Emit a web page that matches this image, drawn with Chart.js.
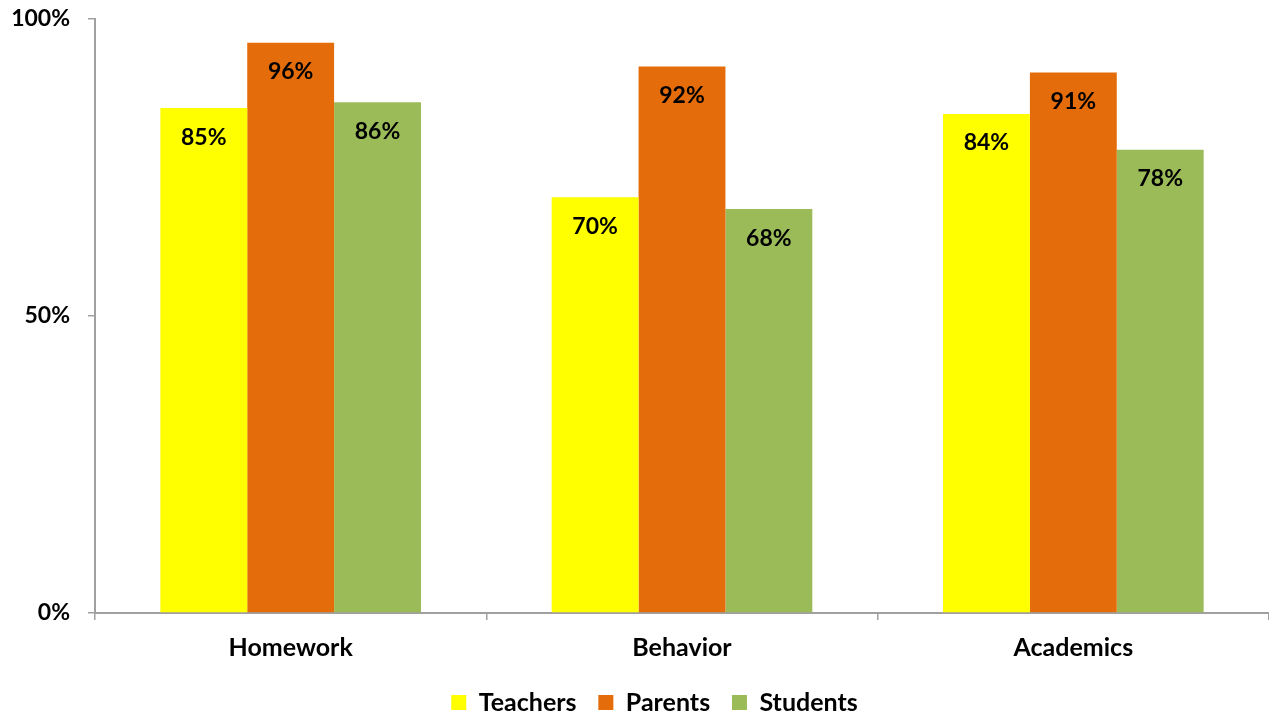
<!DOCTYPE html>
<html>
<head>
<meta charset="utf-8">
<script src="https://cdn.jsdelivr.net/npm/chart.js@4/dist/chart.umd.min.js"></script>
<style>
html,body{margin:0;padding:0;background:#fff;}
#wrap{width:1269px;height:715px;}
</style>
</head>
<body>
<div id="wrap"><canvas id="c" width="1269" height="715"></canvas></div>
<script>
const categories = ["Homework", "Behavior", "Academics"];
const teachers = [85, 70, 84];
const parents = [96, 92, 91];
const students = [86, 68, 78];
const yTicks = [0, 50, 100];

const FONT = "Lato, 'Open Sans', sans-serif";
const AXIS_X = 95;
const LEGEND_SHIFT = 40;

const labelPlugin = {
  id: 'barLabels',
  afterLayout(chart) {
    if (chart.legend) chart.legend.left += LEGEND_SHIFT;
  },
  afterDatasetsDraw(chart) {
    const ctx = chart.ctx;
    ctx.save();
    ctx.font = "bold 23px " + FONT;
    ctx.fillStyle = "#000";
    ctx.textAlign = "center";
    ctx.textBaseline = "middle";
    chart.data.datasets.forEach((ds, i) => {
      const meta = chart.getDatasetMeta(i);
      meta.data.forEach((el, j) => {
        ctx.fillText(ds.data[j] + "%", el.x, el.y + 29);
      });
    });
    ctx.restore();
  }
};

new Chart(document.getElementById('c'), {
  type: 'bar',
  data: {
    labels: categories,
    datasets: [
      { label: "Teachers", data: teachers, backgroundColor: "#FFFF00" },
      { label: "Parents", data: parents, backgroundColor: "#E46C0A" },
      { label: "Students", data: students, backgroundColor: "#9BBB59" }
    ]
  },
  options: {
    responsive: false,
    animation: false,
    layout: { padding: { top: 19, right: 0, left: 0, bottom: -10 } },
    datasets: { bar: { categoryPercentage: 0.666, barPercentage: 1.0 } },
    plugins: {
      legend: {
        position: 'bottom',
        labels: {
          font: { family: FONT, size: 25, weight: 'bold' },
          color: '#000',
          boxWidth: 15,
          boxHeight: 15,
          padding: 14,
          generateLabels(chart) {
            const items = Chart.defaults.plugins.legend.labels.generateLabels(chart);
            return items.map((it, i) => {
              if (i < items.length - 1) it.text = it.text + '\u2005\u200A';
              return it;
            });
          }
        }
      },
      tooltip: { enabled: false }
    },
    scales: {
      x: {
        grid: { drawOnChartArea: false, drawTicks: true, tickLength: 7, color: '#A0A0A0', lineWidth: 1.5 },
        border: { color: '#A0A0A0', width: 2 },
        ticks: { font: { family: FONT, size: 25, weight: 'bold' }, color: '#000', padding: 13 }
      },
      y: {
        min: 0, max: 100,
        afterBuildTicks(axis) { axis.ticks = yTicks.map(v => ({ value: v })); },
        afterFit(axis) { axis.width = AXIS_X; axis.paddingTop = 0; },
        grid: { drawOnChartArea: false, drawTicks: true, tickLength: 7, color: '#A0A0A0', lineWidth: 1.5 },
        border: { color: '#A0A0A0', width: 2 },
        ticks: { font: { family: FONT, size: 23, weight: 'bold' }, color: '#000', padding: 18, callback: v => v + '%' }
      }
    }
  },
  plugins: [labelPlugin]
});
</script>
</body>
</html>
